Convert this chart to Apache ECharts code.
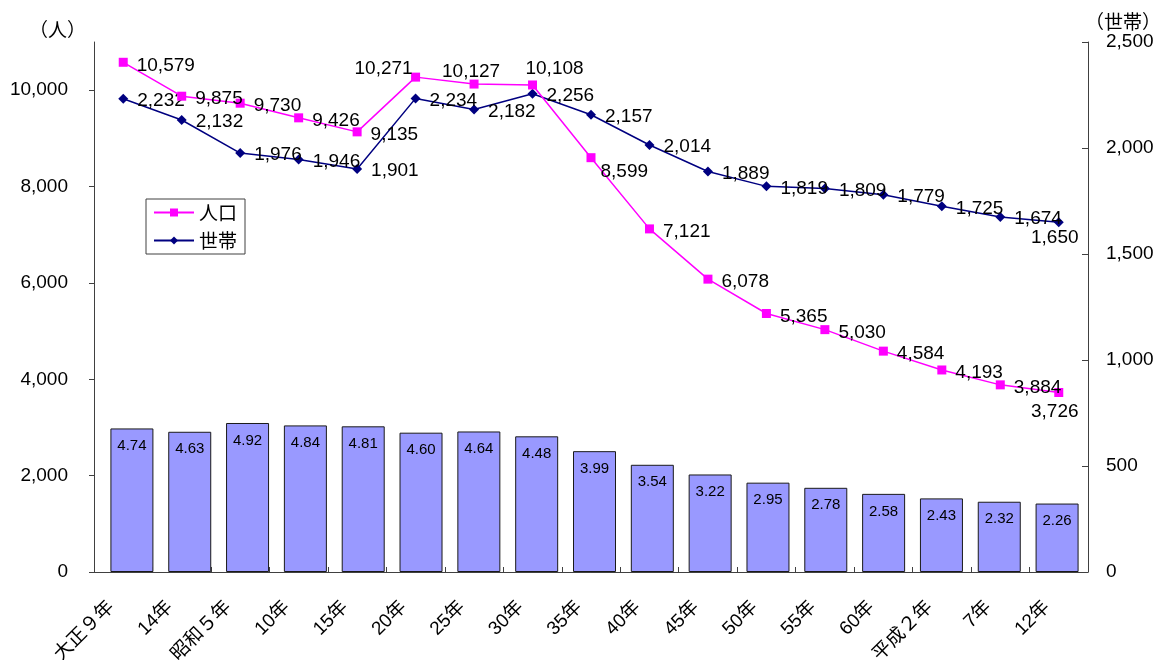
<!DOCTYPE html>
<html>
<head>
<meta charset="utf-8">
<script src="https://cdn.jsdelivr.net/npm/echarts@6/dist/echarts.min.js"></script>
<style>
  html, body { margin: 0; padding: 0; background: #fff; }
  #chart { width: 1157px; height: 660px; }
</style>
</head>
<body>
<div id="chart"></div>
<script>
// Census years
const categories = ['大正９年', '14年', '昭和５年', '10年', '15年', '20年', '25年', '30年', '35年',
  '40年', '45年', '50年', '55年', '60年', '平成２年', '7年', '12年'];
// Population (persons)
const population = [10579, 9875, 9730, 9426, 9135, 10271, 10127, 10108, 8599,
  7121, 6078, 5365, 5030, 4584, 4193, 3884, 3726];
// Households
const households = [2232, 2132, 1976, 1946, 1901, 2234, 2182, 2256, 2157,
  2014, 1889, 1819, 1809, 1779, 1725, 1674, 1650];
// Persons per household
const perHousehold = [4.74, 4.63, 4.92, 4.84, 4.81, 4.60, 4.64, 4.48, 3.99,
  3.54, 3.22, 2.95, 2.78, 2.58, 2.43, 2.32, 2.26];

const NUM_FONT = 'Liberation Sans, Arial, sans-serif';
const JP_FONT = 'Liberation Sans, "Noto Sans CJK JP", sans-serif';

const commas = v => String(v).replace(/\B(?=(\d{3})+(?!\d))/g, ',');

// label placement tweaks for crowded points
const popLabelPos = {
  5: { position: 'top', distance: 5, offset: [-32, 11] },
  6: { position: 'top', distance: 5, offset: [-3, 7] },
  7: { position: 'top', distance: 5, offset: [22, 3] },
  8: { position: 'right', distance: 9, offset: [-4, 14] },
  16: { position: 'bottom', distance: 5, offset: [-4, 0] }
};
const hhLabelPos = {
  16: { position: 'bottom', distance: 5, offset: [-4, -4] }
};

const popData = population.map((v, i) => popLabelPos[i] ? { value: v, label: popLabelPos[i] } : v);
const hhData = households.map((v, i) => hhLabelPos[i] ? { value: v, label: hhLabelPos[i] } : v);

const axisColor = '#404040';

const chart = echarts.init(document.getElementById('chart'), null, { renderer: 'canvas' });
chart.setOption({
  animation: false,
  backgroundColor: '#ffffff',
  grid: [
    // lines and visible axes
    { left: 94, right: 69, top: 42, bottom: 88, containLabel: false, outerBoundsMode: 'none' },
    // bars sit on their own, slightly offset band
    { left: 103, right: 71, top: 42, bottom: 88, containLabel: false, outerBoundsMode: 'none' }
  ],
  legend: {
    data: ['人口', '世帯'],
    orient: 'vertical',
    left: 146,
    top: 199,
    padding: [4, 8, 4, 7],
    itemGap: 9,
    itemWidth: 40,
    itemHeight: 10,
    backgroundColor: '#ffffff',
    borderColor: axisColor,
    borderWidth: 1,
    borderRadius: 0,
    textStyle: { fontSize: 19, color: '#000', fontFamily: '"Noto Sans CJK JP", sans-serif' }
  },
  graphic: [
    { type: 'text', left: 29, top: 20, style: { text: '（人）', fill: '#000', font: '19px "Noto Sans CJK JP"' } },
    { type: 'text', left: 1085, top: 12, style: { text: '（世帯）', fill: '#000', font: '19px "Noto Sans CJK JP"' } }
  ],
  xAxis: [
    {
      type: 'category',
      gridIndex: 0,
      data: categories,
      boundaryGap: true,
      axisLine: { lineStyle: { color: axisColor, width: 1 } },
      axisTick: { show: true, inside: true, length: 5, alignWithLabel: false, lineStyle: { color: axisColor } },
      axisLabel: {
        rotate: 45,
        margin: 20,
        interval: 0,
        fontSize: 19,
        padding: [0, 17, 0, 0],
        color: '#000',
        fontFamily: JP_FONT
      }
    },
    {
      type: 'category',
      gridIndex: 1,
      data: categories,
      boundaryGap: true,
      show: false
    }
  ],
  yAxis: [
    {
      type: 'value',
      gridIndex: 0,
      position: 'left',
      min: 0, max: 11000, interval: 2000,
      axisLine: { show: true, lineStyle: { color: axisColor } },
      axisTick: { show: true, inside: false, length: 5, lineStyle: { color: axisColor } },
      splitLine: { show: false },
      axisLabel: { showMaxLabel: false, margin: 26, fontSize: 19, color: '#000', fontFamily: NUM_FONT }
    },
    {
      type: 'value',
      gridIndex: 0,
      position: 'right',
      min: 0, max: 2500, interval: 500,
      axisLine: { show: true, lineStyle: { color: axisColor } },
      axisTick: { show: true, inside: true, length: 6, lineStyle: { color: axisColor } },
      splitLine: { show: false },
      axisLabel: { margin: 18, fontSize: 19, color: '#000', fontFamily: NUM_FONT }
    },
    {
      type: 'value',
      gridIndex: 1,
      show: false,
      min: 0, max: 17.5
    }
  ],
  series: [
    {
      name: '1世帯当たり人員',
      type: 'bar',
      xAxisIndex: 1,
      yAxisIndex: 2,
      data: perHousehold,
      barWidth: 43,
      itemStyle: { color: '#9999ff', borderColor: '#1a1a1a', borderWidth: 1 },
      label: {
        show: true,
        position: 'insideTop',
        distance: 10,
        fontSize: 15,
        color: '#000',
        fontFamily: NUM_FONT,
        formatter: p => p.value.toFixed(2)
      },
      z: 1
    },
    {
      name: '世帯',
      type: 'line',
      xAxisIndex: 0,
      yAxisIndex: 1,
      data: hhData,
      symbol: 'diamond',
      symbolSize: 10,
      lineStyle: { color: '#000080', width: 1.5 },
      itemStyle: { color: '#000080' },
      label: {
        show: true,
        position: 'right',
        distance: 9,
        offset: [0, 2],
        fontSize: 19,
        color: '#000',
        fontFamily: NUM_FONT,
        formatter: p => commas(p.value)
      },
      z: 3
    },
    {
      name: '人口',
      type: 'line',
      xAxisIndex: 0,
      yAxisIndex: 0,
      data: popData,
      symbol: 'rect',
      symbolSize: 9,
      lineStyle: { color: '#ff00ff', width: 1.5 },
      itemStyle: { color: '#ff00ff' },
      label: {
        show: true,
        position: 'right',
        distance: 9,
        offset: [0, 3],
        fontSize: 19,
        color: '#000',
        fontFamily: NUM_FONT,
        formatter: p => commas(p.value)
      },
      z: 4
    }
  ]
});
</script>
</body>
</html>
